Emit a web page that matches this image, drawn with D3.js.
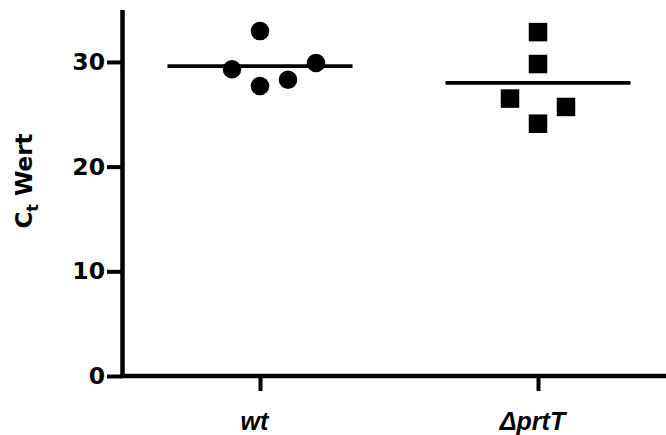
<!DOCTYPE html>
<html>
<head>
<meta charset="utf-8">
<script src="https://cdn.jsdelivr.net/npm/d3@7"></script>
<style>
  html, body { margin: 0; padding: 0; background: #fff; }
  svg { display: block; }
</style>
</head>
<body>
<script>
// ---- data ----
const categories = ["wt", "\u0394prtT"];
const wtValues = [32.95, 29.3, 27.7, 28.3, 29.9];
const wtColumns = [0, -1, 0, 1, 2];          // scatter column (jitter) of each point
const mutValues = [32.85, 29.8, 26.5, 25.7, 24.1];
const mutColumns = [0, 0, -1, 1, 0];
const groupMeans = [29.6, 28.0];
const yTicks = [0, 10, 20, 30];
const yLabelMain = "C";
const yLabelSub = "t";
const yLabelRest = " Wert";

// ---- layout ----
const W = 666, H = 435;
const axisX = 122;
const svg = d3.select("body").append("svg").attr("width", W).attr("height", H);

const y = d3.scaleLinear().domain([0, 35]).range([376, 9.6]);
const x = d3.scalePoint().domain(categories).range([260, 538]);
const colStep = 28;
const meanHalf = 92.5;

// y axis
const yAxis = d3.axisLeft(y).tickValues(yTicks).tickSize(15).tickSizeOuter(0).tickPadding(2);
const gy = svg.append("g").attr("transform", `translate(${axisX},0)`).call(yAxis);
gy.select(".domain").attr("stroke", "#000").attr("stroke-width", 4.5);
gy.selectAll(".tick line").attr("stroke", "#000").attr("stroke-width", 4);
gy.selectAll(".tick text")
  .attr("font-family", "DejaVu Sans")
  .attr("font-weight", "bold")
  .attr("font-size", 23.5)
  .attr("fill", "#000");

// x axis
svg.append("line")
  .attr("x1", axisX - 2).attr("x2", W)
  .attr("y1", y(0)).attr("y2", y(0))
  .attr("stroke", "#000").attr("stroke-width", 4.5);
const xAxis = d3.axisBottom(x).tickSize(15).tickSizeOuter(0).tickPadding(21);
const gx = svg.append("g").attr("transform", `translate(0,${y(0)})`).call(xAxis);
gx.select(".domain").remove();
gx.selectAll(".tick line").attr("stroke", "#000").attr("stroke-width", 4);
gx.selectAll(".tick text")
  .attr("font-family", "Liberation Sans, Arial, sans-serif")
  .attr("font-weight", "bold")
  .attr("font-style", "italic")
  .attr("font-size", 25)
  .attr("dx", -6)
  .attr("fill", "#000");

// y label
const yl = svg.append("text")
  .attr("transform", `translate(32,181) rotate(-90)`)
  .attr("text-anchor", "middle")
  .attr("font-family", "DejaVu Sans")
  .attr("font-weight", "bold")
  .attr("font-size", 23)
  .attr("fill", "#000");
yl.append("tspan").text(yLabelMain);
yl.append("tspan").attr("font-size", 16).attr("dy", 6).text(yLabelSub);
yl.append("tspan").attr("dy", -6).text(yLabelRest);

// mean lines
svg.selectAll("line.mean")
  .data(categories)
  .join("line")
  .attr("class", "mean")
  .attr("x1", d => x(d) - meanHalf)
  .attr("x2", d => x(d) + meanHalf)
  .attr("y1", (d, i) => y(groupMeans[i]))
  .attr("y2", (d, i) => y(groupMeans[i]))
  .attr("stroke", "#000").attr("stroke-width", 3.8);

// wt circles
svg.selectAll("circle.pt")
  .data(wtValues)
  .join("circle")
  .attr("class", "pt")
  .attr("cx", (d, i) => x(categories[0]) + wtColumns[i] * colStep)
  .attr("cy", d => y(d))
  .attr("r", 9.3)
  .attr("fill", "#000");

// mutant squares
const sq = 18.5;
svg.selectAll("rect.pt")
  .data(mutValues)
  .join("rect")
  .attr("class", "pt")
  .attr("x", (d, i) => x(categories[1]) + mutColumns[i] * colStep - sq / 2)
  .attr("y", d => y(d) - sq / 2)
  .attr("width", sq).attr("height", sq)
  .attr("fill", "#000");
</script>
</body>
</html>
